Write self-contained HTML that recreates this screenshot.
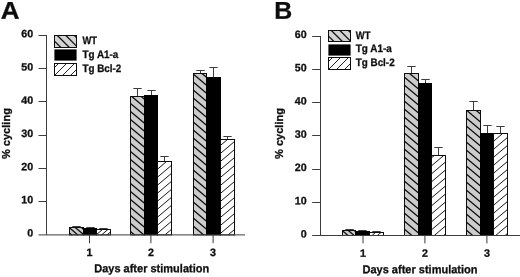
<!DOCTYPE html>
<html><head><meta charset="utf-8"><title>Figure</title>
<style>html,body{margin:0;padding:0;background:#fff}svg{display:block}text{font-family:"Liberation Sans", sans-serif;font-weight:bold;fill:#111;stroke:#111;stroke-width:0.3px}</style>
</head><body>
<svg width="520" height="277" viewBox="0 0 520 277">
<defs><filter id="soft" x="0" y="0" width="520" height="277" filterUnits="userSpaceOnUse"><feGaussianBlur stdDeviation="0.3"/></filter></defs>
<rect width="520" height="277" fill="#fff"/>
<g filter="url(#soft)">
<path d="M76.5 227.5V226.5M72.3 226.5H80.7" stroke="#3c3c3c" stroke-width="1" fill="none"/>
<rect x="69.5" y="227.5" width="14" height="7.4" fill="#cccccc"/>
<path d="M81.38 227.5L83.5 229.3M75.26 227.5L83.5 234.5M69.5 227.8L77.85 234.9M69.5 233L71.74 234.9" stroke="#111" stroke-width="1.3" fill="none"/>
<rect x="69.5" y="227.5" width="14" height="7.4" fill="none" stroke="#111" stroke-width="1"/>
<path d="M90.5 228.5V227.5M86.3 227.5H94.7" stroke="#3c3c3c" stroke-width="1" fill="none"/>
<rect x="83" y="228" width="14" height="7.4" fill="#000"/>
<path d="M103.5 229.5V228.5M99.3 228.5H107.7" stroke="#3c3c3c" stroke-width="1" fill="none"/>
<rect x="96.5" y="229.5" width="14" height="5.4" fill="#fff"/>
<path d="M96.5 230L97.09 229.5M96.5 234.6L102.5 229.5M101.56 234.9L107.91 229.5M106.97 234.9L110.5 231.9" stroke="#161616" stroke-width="1.0" fill="none"/>
<rect x="96.5" y="229.5" width="14" height="5.4" fill="none" stroke="#111" stroke-width="1"/>
<path d="M137.5 96.5V88.5M133.3 88.5H141.7" stroke="#3c3c3c" stroke-width="1" fill="none"/>
<rect x="130.5" y="96.5" width="14" height="138.4" fill="#cccccc"/>
<path d="M141.21 96.5L144.5 99.3M131.79 96.5L144.5 107.3M130.5 103.4L144.5 115.3M130.5 111.4L144.5 123.3M130.5 119.4L144.5 131.3M130.5 127.4L144.5 139.3M130.5 135.4L144.5 147.3M130.5 143.4L144.5 155.3M130.5 151.4L144.5 163.3M130.5 159.4L144.5 171.3M130.5 167.4L144.5 179.3M130.5 175.4L144.5 187.3M130.5 183.4L144.5 195.3M130.5 191.4L144.5 203.3M130.5 199.4L144.5 211.3M130.5 207.4L144.5 219.3M130.5 215.4L144.5 227.3M130.5 223.4L144.03 234.9M130.5 231.4L134.62 234.9" stroke="#111" stroke-width="1.3" fill="none"/>
<rect x="130.5" y="96.5" width="14" height="138.4" fill="none" stroke="#111" stroke-width="1"/>
<path d="M151.5 95.5V90.5M147.3 90.5H155.7" stroke="#3c3c3c" stroke-width="1" fill="none"/>
<rect x="144" y="95" width="14" height="140.4" fill="#000"/>
<path d="M164.5 161.5V156.5M160.3 156.5H168.7" stroke="#3c3c3c" stroke-width="1" fill="none"/>
<rect x="157.5" y="161.5" width="14" height="73.4" fill="#fff"/>
<path d="M157.5 169.2L166.56 161.5M157.5 177.2L171.5 165.3M157.5 185.2L171.5 173.3M157.5 193.2L171.5 181.3M157.5 201.2L171.5 189.3M157.5 209.2L171.5 197.3M157.5 217.2L171.5 205.3M157.5 225.2L171.5 213.3M157.5 233.2L171.5 221.3M164.91 234.9L171.5 229.3" stroke="#161616" stroke-width="1.0" fill="none"/>
<rect x="157.5" y="161.5" width="14" height="73.4" fill="none" stroke="#111" stroke-width="1"/>
<path d="M200.5 73.5V70.5M196.3 70.5H204.7" stroke="#3c3c3c" stroke-width="1" fill="none"/>
<rect x="193.5" y="73.5" width="13" height="161.4" fill="#cccccc"/>
<path d="M201.97 73.5L206.5 77.35M193.5 74.3L206.5 85.35M193.5 82.3L206.5 93.35M193.5 90.3L206.5 101.35M193.5 98.3L206.5 109.35M193.5 106.3L206.5 117.35M193.5 114.3L206.5 125.35M193.5 122.3L206.5 133.35M193.5 130.3L206.5 141.35M193.5 138.3L206.5 149.35M193.5 146.3L206.5 157.35M193.5 154.3L206.5 165.35M193.5 162.3L206.5 173.35M193.5 170.3L206.5 181.35M193.5 178.3L206.5 189.35M193.5 186.3L206.5 197.35M193.5 194.3L206.5 205.35M193.5 202.3L206.5 213.35M193.5 210.3L206.5 221.35M193.5 218.3L206.5 229.35M193.5 226.3L203.62 234.9M193.5 234.3L194.21 234.9" stroke="#111" stroke-width="1.3" fill="none"/>
<rect x="193.5" y="73.5" width="13" height="161.4" fill="none" stroke="#111" stroke-width="1"/>
<path d="M213.5 77.5V67.5M209.3 67.5H217.7" stroke="#3c3c3c" stroke-width="1" fill="none"/>
<rect x="206" y="77" width="15" height="158.4" fill="#000"/>
<path d="M227.5 139.5V136.5M223.3 136.5H231.7" stroke="#3c3c3c" stroke-width="1" fill="none"/>
<rect x="220.5" y="139.5" width="14" height="95.4" fill="#fff"/>
<path d="M220.5 145.4L227.44 139.5M220.5 153.4L234.5 141.5M220.5 161.4L234.5 149.5M220.5 169.4L234.5 157.5M220.5 177.4L234.5 165.5M220.5 185.4L234.5 173.5M220.5 193.4L234.5 181.5M220.5 201.4L234.5 189.5M220.5 209.4L234.5 197.5M220.5 217.4L234.5 205.5M220.5 225.4L234.5 213.5M220.5 233.4L234.5 221.5M228.15 234.9L234.5 229.5" stroke="#161616" stroke-width="1.0" fill="none"/>
<rect x="220.5" y="139.5" width="14" height="95.4" fill="none" stroke="#111" stroke-width="1"/>
<path d="M46.5 35V234.9M38.5 234.9H245" stroke="#3c3c3c" stroke-width="1" fill="none"/>
<path d="M38.5 201.5H46.5M38.5 168.5H46.5M38.5 135.5H46.5M38.5 101.5H46.5M38.5 68.5H46.5M38.5 35.5H46.5" stroke="#3c3c3c" stroke-width="1" fill="none"/>
<path d="M89.5 234.9V243.2M150.9 234.9V243.2M213.1 234.9V243.2" stroke="#3c3c3c" stroke-width="1" fill="none"/>
<text x="33.2" y="236.6" font-size="10.7" transform="rotate(0.03 33.2 236.6)" text-anchor="end">0</text>
<text x="33.2" y="203.38" font-size="10.7" transform="rotate(0.03 33.2 203.38)" text-anchor="end">10</text>
<text x="33.2" y="170.17" font-size="10.7" transform="rotate(0.03 33.2 170.17)" text-anchor="end">20</text>
<text x="33.2" y="136.95" font-size="10.7" transform="rotate(0.03 33.2 136.95)" text-anchor="end">30</text>
<text x="33.2" y="103.73" font-size="10.7" transform="rotate(0.03 33.2 103.73)" text-anchor="end">40</text>
<text x="33.2" y="70.52" font-size="10.7" transform="rotate(0.03 33.2 70.52)" text-anchor="end">50</text>
<text x="33.2" y="37.3" font-size="10.7" transform="rotate(0.03 33.2 37.3)" text-anchor="end">60</text>
<text x="89.5" y="256" font-size="10.7" transform="rotate(0.03 89.5 256)" text-anchor="middle">1</text>
<text x="150.9" y="256" font-size="10.7" transform="rotate(0.03 150.9 256)" text-anchor="middle">2</text>
<text x="213.1" y="256" font-size="10.7" transform="rotate(0.03 213.1 256)" text-anchor="middle">3</text>
<rect x="54.5" y="35.5" width="22" height="12" fill="#d4d4d4"/>
<path d="M74.4 35.5L76.5 37.6M65.9 35.5L76.5 46.1M57.4 35.5L69.4 47.5M54.5 41.1L60.9 47.5" stroke="#111" stroke-width="1.25" fill="none"/>
<rect x="54.5" y="35.5" width="22" height="12" fill="none" stroke="#111" stroke-width="1"/>
<text x="82.4" y="43.7" font-size="10.8" transform="rotate(0.03 82.4 43.7)" textLength="14.6" lengthAdjust="spacingAndGlyphs">WT</text>
<rect x="54.4" y="49.4" width="22.2" height="11.2" fill="#000"/>
<text x="82.4" y="57.9" font-size="10.8" transform="rotate(0.03 82.4 57.9)" textLength="36.0" lengthAdjust="spacingAndGlyphs">Tg A1-a</text>
<rect x="54.5" y="63.5" width="22" height="12" fill="#fff"/>
<path d="M54.5 67.5L58.5 63.5M54.5 75.5L66.5 63.5M62.5 75.5L74.5 63.5M70.5 75.5L76.5 69.5" stroke="#161616" stroke-width="0.95" fill="none"/>
<rect x="54.5" y="63.5" width="22" height="12" fill="none" stroke="#111" stroke-width="1"/>
<text x="82.4" y="72.1" font-size="10.8" transform="rotate(0.03 82.4 72.1)" textLength="38.8" lengthAdjust="spacingAndGlyphs">Tg Bcl-2</text>
<text transform="translate(10.1 133.6) rotate(-90)" text-anchor="middle" font-size="11.2" textLength="51" lengthAdjust="spacingAndGlyphs">% cycling</text>
<text x="151.7" y="272.3" font-size="11.5" transform="rotate(0.03 151.7 272.3)" text-anchor="middle" textLength="115" lengthAdjust="spacingAndGlyphs">Days after stimulation</text>
<text x="0.7" y="18.8" font-size="24.3" transform="rotate(0.03 0.7 18.8)" textLength="18.8" lengthAdjust="spacingAndGlyphs" stroke="#111" stroke-width="0.8">A</text>
<path d="M349.5 230.5V229.5M345.3 229.5H353.7" stroke="#3c3c3c" stroke-width="1" fill="none"/>
<rect x="342.5" y="230.5" width="13" height="5" fill="#cccccc"/>
<path d="M354.38 230.5L355.5 231.45M348.26 230.5L354.15 235.5M342.5 230.8L348.03 235.5" stroke="#111" stroke-width="1.3" fill="none"/>
<rect x="342.5" y="230.5" width="13" height="5" fill="none" stroke="#111" stroke-width="1"/>
<path d="M362.5 231.5V230.5M358.3 230.5H366.7" stroke="#3c3c3c" stroke-width="1" fill="none"/>
<rect x="355" y="231" width="15" height="5" fill="#000"/>
<path d="M376.5 232.5V231.5M372.3 231.5H380.7" stroke="#3c3c3c" stroke-width="1" fill="none"/>
<rect x="369.5" y="232.5" width="14" height="3" fill="#fff"/>
<path d="M369.5 233L370.09 232.5M371.97 235.5L375.5 232.5M377.38 235.5L380.91 232.5M382.79 235.5L383.5 234.9" stroke="#161616" stroke-width="1.0" fill="none"/>
<rect x="369.5" y="232.5" width="14" height="3" fill="none" stroke="#111" stroke-width="1"/>
<path d="M411.5 73.5V66.5M407.3 66.5H415.7" stroke="#3c3c3c" stroke-width="1" fill="none"/>
<rect x="404.5" y="73.5" width="14" height="162" fill="#cccccc"/>
<path d="M409.56 73.5L418.5 81.1M404.5 77.2L418.5 89.1M404.5 85.2L418.5 97.1M404.5 93.2L418.5 105.1M404.5 101.2L418.5 113.1M404.5 109.2L418.5 121.1M404.5 117.2L418.5 129.1M404.5 125.2L418.5 137.1M404.5 133.2L418.5 145.1M404.5 141.2L418.5 153.1M404.5 149.2L418.5 161.1M404.5 157.2L418.5 169.1M404.5 165.2L418.5 177.1M404.5 173.2L418.5 185.1M404.5 181.2L418.5 193.1M404.5 189.2L418.5 201.1M404.5 197.2L418.5 209.1M404.5 205.2L418.5 217.1M404.5 213.2L418.5 225.1M404.5 221.2L418.5 233.1M404.5 229.2L411.91 235.5" stroke="#111" stroke-width="1.3" fill="none"/>
<rect x="404.5" y="73.5" width="14" height="162" fill="none" stroke="#111" stroke-width="1"/>
<path d="M425.5 83.5V79.5M421.3 79.5H429.7" stroke="#3c3c3c" stroke-width="1" fill="none"/>
<rect x="418" y="83" width="14" height="153" fill="#000"/>
<path d="M438.5 155.5V147.5M434.3 147.5H442.7" stroke="#3c3c3c" stroke-width="1" fill="none"/>
<rect x="431.5" y="155.5" width="14" height="80" fill="#fff"/>
<path d="M431.5 157.85L434.26 155.5M431.5 165.85L443.68 155.5M431.5 173.85L445.5 161.95M431.5 181.85L445.5 169.95M431.5 189.85L445.5 177.95M431.5 197.85L445.5 185.95M431.5 205.85L445.5 193.95M431.5 213.85L445.5 201.95M431.5 221.85L445.5 209.95M431.5 229.85L445.5 217.95M434.26 235.5L445.5 225.95M443.68 235.5L445.5 233.95" stroke="#161616" stroke-width="1.0" fill="none"/>
<rect x="431.5" y="155.5" width="14" height="80" fill="none" stroke="#111" stroke-width="1"/>
<path d="M473.5 110.5V101.5M469.3 101.5H477.7" stroke="#3c3c3c" stroke-width="1" fill="none"/>
<rect x="466.5" y="110.5" width="14" height="125" fill="#cccccc"/>
<path d="M476.26 110.5L480.5 114.1M466.85 110.5L480.5 122.1M466.5 118.2L480.5 130.1M466.5 126.2L480.5 138.1M466.5 134.2L480.5 146.1M466.5 142.2L480.5 154.1M466.5 150.2L480.5 162.1M466.5 158.2L480.5 170.1M466.5 166.2L480.5 178.1M466.5 174.2L480.5 186.1M466.5 182.2L480.5 194.1M466.5 190.2L480.5 202.1M466.5 198.2L480.5 210.1M466.5 206.2L480.5 218.1M466.5 214.2L480.5 226.1M466.5 222.2L480.5 234.1M466.5 230.2L472.74 235.5" stroke="#111" stroke-width="1.3" fill="none"/>
<rect x="466.5" y="110.5" width="14" height="125" fill="none" stroke="#111" stroke-width="1"/>
<path d="M487.5 133.5V125.5M483.3 125.5H491.7" stroke="#3c3c3c" stroke-width="1" fill="none"/>
<rect x="480" y="133" width="14" height="103" fill="#000"/>
<path d="M500.5 133.5V126.5M496.3 126.5H504.7" stroke="#3c3c3c" stroke-width="1" fill="none"/>
<rect x="493.5" y="133.5" width="14" height="102" fill="#fff"/>
<path d="M493.5 141.3L502.68 133.5M493.5 149.3L507.5 137.4M493.5 157.3L507.5 145.4M493.5 165.3L507.5 153.4M493.5 173.3L507.5 161.4M493.5 181.3L507.5 169.4M493.5 189.3L507.5 177.4M493.5 197.3L507.5 185.4M493.5 205.3L507.5 193.4M493.5 213.3L507.5 201.4M493.5 221.3L507.5 209.4M493.5 229.3L507.5 217.4M495.62 235.5L507.5 225.4M505.03 235.5L507.5 233.4" stroke="#161616" stroke-width="1.0" fill="none"/>
<rect x="493.5" y="133.5" width="14" height="102" fill="none" stroke="#111" stroke-width="1"/>
<path d="M320.5 36V235.5M312.2 235.5H520" stroke="#3c3c3c" stroke-width="1" fill="none"/>
<path d="M312.2 202.5H320.5M312.2 169.5H320.5M312.2 135.5H320.5M312.2 102.5H320.5M312.2 69.5H320.5M312.2 36.5H320.5" stroke="#3c3c3c" stroke-width="1" fill="none"/>
<path d="M363 235.5V243.4M424.9 235.5V243.4M486.9 235.5V243.4" stroke="#3c3c3c" stroke-width="1" fill="none"/>
<text x="306.7" y="237.4" font-size="10.7" transform="rotate(0.03 306.7 237.4)" text-anchor="end">0</text>
<text x="306.7" y="204.18" font-size="10.7" transform="rotate(0.03 306.7 204.18)" text-anchor="end">10</text>
<text x="306.7" y="170.97" font-size="10.7" transform="rotate(0.03 306.7 170.97)" text-anchor="end">20</text>
<text x="306.7" y="137.75" font-size="10.7" transform="rotate(0.03 306.7 137.75)" text-anchor="end">30</text>
<text x="306.7" y="104.53" font-size="10.7" transform="rotate(0.03 306.7 104.53)" text-anchor="end">40</text>
<text x="306.7" y="71.32" font-size="10.7" transform="rotate(0.03 306.7 71.32)" text-anchor="end">50</text>
<text x="306.7" y="38.1" font-size="10.7" transform="rotate(0.03 306.7 38.1)" text-anchor="end">60</text>
<text x="363" y="256.8" font-size="10.7" transform="rotate(0.03 363 256.8)" text-anchor="middle">1</text>
<text x="424.9" y="256.8" font-size="10.7" transform="rotate(0.03 424.9 256.8)" text-anchor="middle">2</text>
<text x="486.9" y="256.8" font-size="10.7" transform="rotate(0.03 486.9 256.8)" text-anchor="middle">3</text>
<rect x="328.5" y="30.5" width="22" height="11" fill="#d4d4d4"/>
<path d="M348.4 30.5L350.5 32.6M339.9 30.5L350.5 41.1M331.4 30.5L342.4 41.5M328.5 36.1L333.9 41.5" stroke="#111" stroke-width="1.25" fill="none"/>
<rect x="328.5" y="30.5" width="22" height="11" fill="none" stroke="#111" stroke-width="1"/>
<text x="355.8" y="38.7" font-size="10.8" transform="rotate(0.03 355.8 38.7)" textLength="14.6" lengthAdjust="spacingAndGlyphs">WT</text>
<rect x="328.4" y="44.4" width="22.2" height="11.2" fill="#000"/>
<text x="355.8" y="52.3" font-size="10.8" transform="rotate(0.03 355.8 52.3)" textLength="36.0" lengthAdjust="spacingAndGlyphs">Tg A1-a</text>
<rect x="328.5" y="57.5" width="22" height="12" fill="#fff"/>
<path d="M328.5 61.5L332.5 57.5M328.5 69.5L340.5 57.5M336.5 69.5L348.5 57.5M344.5 69.5L350.5 63.5" stroke="#161616" stroke-width="0.95" fill="none"/>
<rect x="328.5" y="57.5" width="22" height="12" fill="none" stroke="#111" stroke-width="1"/>
<text x="355.8" y="66.4" font-size="10.8" transform="rotate(0.03 355.8 66.4)" textLength="38.8" lengthAdjust="spacingAndGlyphs">Tg Bcl-2</text>
<text transform="translate(283.4 133.5) rotate(-90)" text-anchor="middle" font-size="11.2" textLength="51" lengthAdjust="spacingAndGlyphs">% cycling</text>
<text x="420" y="273.3" font-size="11.5" transform="rotate(0.03 420 273.3)" text-anchor="middle" textLength="115" lengthAdjust="spacingAndGlyphs">Days after stimulation</text>
<text x="274.3" y="18.8" font-size="24.3" transform="rotate(0.03 274.3 18.8)" textLength="18.0" lengthAdjust="spacingAndGlyphs" stroke="#111" stroke-width="0.8">B</text>
</g></svg></body></html>
